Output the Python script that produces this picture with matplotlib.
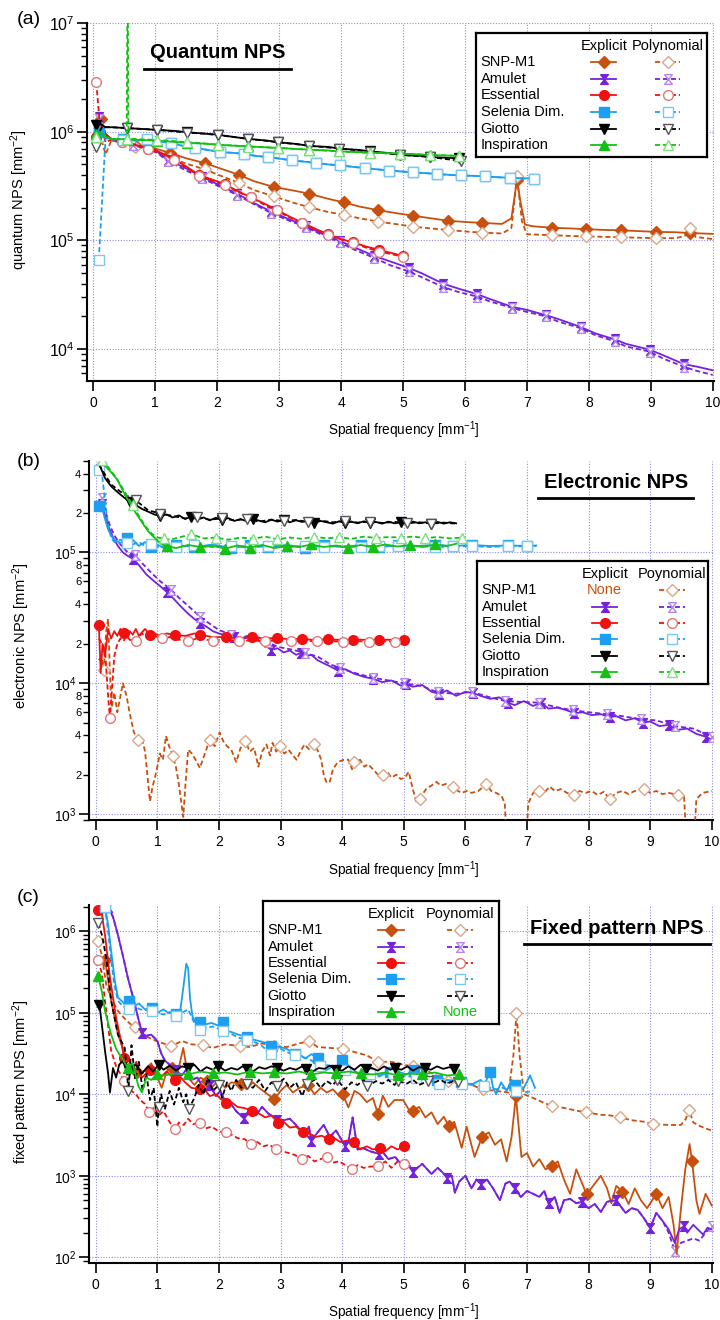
import numpy as np
import matplotlib
matplotlib.use("Agg")
import matplotlib.pyplot as plt
from matplotlib.lines import Line2D
from matplotlib.ticker import LogLocator, FuncFormatter, NullFormatter, MultipleLocator

plt.rcParams["font.family"] = ["Liberation Sans", "DejaVu Sans"]
plt.rcParams["mathtext.fontset"] = "custom"
plt.rcParams["mathtext.rm"] = "Liberation Sans"
plt.rcParams["mathtext.it"] = "Liberation Sans:italic"
plt.rcParams["mathtext.bf"] = "Liberation Sans:bold"

W, H = 720, 1320

DETECTORS = ["SNP-M1", "Amulet", "Essential", "Selenia Dim.", "Giotto", "Inspiration"]
COLORS = {"SNP-M1": "#c8500f", "Amulet": "#7422dc", "Essential": "#f01010",
          "Selenia Dim.": "#1c9ff0", "Giotto": "#000000", "Inspiration": "#14c014"}
POLY_EDGE = {"SNP-M1": "#d9a888", "Amulet": "#b088ee", "Essential": "#e07878",
             "Selenia Dim.": "#7cc8f0", "Giotto": "#555555", "Inspiration": "#80e080"}
BOWTIE = [(-0.8, 1), (0.8, 1), (-0.8, -1), (0.8, -1), (-0.8, 1)]
MARKERS = {"SNP-M1": "D", "Amulet": BOWTIE, "Essential": "o",
           "Selenia Dim.": "s", "Giotto": "v", "Inspiration": "^"}
MSIZE = {"SNP-M1": 6.5, "Amulet": 7, "Essential": 7, "Selenia Dim.": 7, "Giotto": 7.5, "Inspiration": 7.5}

# ---------------- (a) quantum NPS ----------------
a_snp_x = [0.05, 0.12, 0.2, 0.3, 0.5, 0.68, 1.0, 1.24, 1.5, 1.8, 2.05, 2.36, 2.6, 2.92, 3.2, 3.48, 3.75, 4.04, 4.3, 4.6,
           4.9, 5.16, 5.45, 5.72, 6.0, 6.28, 6.6, 6.75, 6.84, 6.9, 6.97, 7.1, 7.4, 7.7, 7.96, 8.25, 8.52, 8.8, 9.08, 9.4,
           9.64, 10.0]
a_snp_y = [9.5e5, 1.3e6, 9.5e5, 8.3e5, 7.8e5, 7.5e5, 7.0e5, 6.4e5, 5.7e5, 5.15e5, 4.6e5, 4.0e5, 3.5e5, 3.1e5, 2.9e5,
           2.7e5, 2.45e5, 2.24e5, 2.05e5, 1.9e5, 1.78e5, 1.69e5, 1.6e5, 1.52e5, 1.48e5, 1.45e5, 1.42e5, 1.6e5, 3.6e5,
           2.2e5, 1.4e5, 1.35e5, 1.31e5, 1.29e5, 1.27e5, 1.25e5, 1.24e5, 1.22e5, 1.2e5, 1.19e5, 1.17e5, 1.15e5]
a_snp_px = [0.05, 0.12, 0.2, 0.3, 0.5, 0.68, 1.0, 1.24, 1.5, 1.8, 2.05, 2.36, 2.6, 2.92, 3.2, 3.48, 3.75, 4.04, 4.3, 4.6,
            4.9, 5.16, 5.45, 5.72, 6.0, 6.28, 6.6, 6.75, 6.84, 6.92, 7.0, 7.2, 7.4, 7.7, 7.96, 8.25, 8.52, 8.8, 9.08,
            9.4, 9.55, 9.64, 9.72, 10.0]
a_snp_py = [9.0e5, 9.0e5, 6.2e5, 8.5e5, 7.8e5, 7.3e5, 6.5e5, 5.75e5, 5.1e5, 4.5e5, 3.95e5, 3.37e5, 2.9e5, 2.54e5,
            2.25e5, 2.03e5, 1.85e5, 1.72e5, 1.6e5, 1.49e5, 1.41e5, 1.34e5, 1.29e5, 1.25e5, 1.21e5, 1.18e5, 1.16e5,
            1.3e5, 3.9e5, 1.5e5, 1.14e5, 1.13e5, 1.12e5, 1.1e5, 1.09e5, 1.08e5, 1.07e5, 1.06e5, 1.05e5, 1.05e5,
            1.1e5, 1.3e5, 1.08e5, 1.03e5]
a_amu_x = [0.05, 0.1, 0.2, 0.3, 0.5, 0.65, 1.0, 1.21, 1.5, 1.76, 2.0, 2.32, 2.6, 2.87, 3.1, 3.43, 3.7, 3.98, 4.2, 4.54,
           4.8, 5.09, 5.3, 5.65, 5.9, 6.2, 6.4, 6.76, 7.0, 7.31, 7.5, 7.87, 8.1, 8.42, 8.6, 8.98, 9.2, 9.53, 9.75, 10.0]
a_amu_y = [1.1e6, 1.38e6, 9.5e5, 8.5e5, 8.0e5, 7.6e5, 6.8e5, 5.5e5, 4.6e5, 3.85e5, 3.3e5, 2.7e5, 2.2e5, 1.85e5,
           1.62e5, 1.36e5, 1.15e5, 9.9e4, 8.7e4, 7.2e4, 6.4e4, 5.6e4, 5.0e4, 4.0e4, 3.6e4, 3.2e4, 2.9e4, 2.45e4,
           2.3e4, 2.05e4, 1.9e4, 1.6e4, 1.4e4, 1.23e4, 1.12e4, 9.9e3, 8.8e3, 7.3e3, 6.9e3, 6.4e3]
a_amu_py = [1.0e6, 1.3e6, 9.5e5, 8.5e5, 8.0e5, 7.5e5, 6.6e5, 5.35e5, 4.4e5, 3.75e5, 3.2e5, 2.63e5, 2.15e5, 1.79e5,
            1.57e5, 1.33e5, 1.12e5, 9.6e4, 8.3e4, 6.9e4, 5.9e4, 5.2e4, 4.6e4, 3.73e4, 3.35e4, 3.05e4, 2.75e4, 2.4e4,
            2.2e4, 2.0e4, 1.8e4, 1.56e4, 1.35e4, 1.18e4, 1.06e4, 9.5e3, 8.2e3, 6.9e3, 6.3e3, 5.8e3]
a_ess_x = [0.05, 0.1, 0.2, 0.3, 0.47, 0.7, 0.88, 1.0, 1.3, 1.5, 1.71, 2.0, 2.13, 2.3, 2.54, 2.75, 2.96, 3.15, 3.37,
           3.6, 3.79, 4.0, 4.2, 4.4, 4.62, 5.0]
a_ess_y = [9.0e5, 1.25e6, 9.5e5, 8.5e5, 8.0e5, 7.5e5, 7.0e5, 6.8e5, 5.6e5, 4.8e5, 4.0e5, 3.5e5, 3.3e5, 2.9e5, 2.5e5,
           2.2e5, 1.92e5, 1.68e5, 1.46e5, 1.27e5, 1.14e5, 1.03e5, 9.6e4, 8.8e4, 8.2e4, 7.2e4]
a_ess_py = [2.85e6, 1.3e6, 8.0e5, 8.5e5, 8.0e5, 7.6e5, 6.9e5, 6.7e5, 5.5e5, 4.7e5, 3.9e5, 3.4e5, 3.26e5, 2.85e5, 2.5e5,
            2.15e5, 1.89e5, 1.65e5, 1.44e5, 1.25e5, 1.13e5, 1.02e5, 9.5e4, 8.6e4, 7.9e4, 7.1e4]
a_sel_x = [0.05, 0.1, 0.2, 0.3, 0.48, 0.7, 0.87, 1.05, 1.26, 1.45, 1.65, 1.85, 2.04, 2.25, 2.43, 2.62, 2.82, 3.02,
           3.21, 3.42, 3.6, 3.8, 3.99, 4.2, 4.38, 4.6, 4.77, 5.0, 5.16, 5.4, 5.55, 5.8, 5.94, 6.2, 6.33, 6.55, 6.72,
           6.95, 7.11]
a_sel_y = [1.05e6, 1.0e6, 8.8e5, 8.5e5, 8.5e5, 8.3e5, 8.4e5, 8.1e5, 7.9e5, 7.4e5, 7.1e5, 6.8e5, 6.5e5, 6.4e5, 6.25e5,
           6.0e5, 5.85e5, 5.65e5, 5.45e5, 5.3e5, 5.15e5, 5.0e5, 4.9e5, 4.75e5, 4.65e5, 4.5e5, 4.4e5, 4.3e5, 4.22e5,
           4.15e5, 4.08e5, 4.0e5, 3.96e5, 3.92e5, 3.88e5, 3.82e5, 3.77e5, 3.73e5, 3.7e5]
a_sel_px = [0.09, 0.2, 0.3, 0.48, 0.7, 0.87, 1.05, 1.26, 1.45, 1.65, 1.85, 2.04, 2.25, 2.43, 2.62, 2.82, 3.02, 3.21,
            3.42, 3.6, 3.8, 3.99, 4.2, 4.38, 4.6, 4.77, 5.0, 5.16, 5.4, 5.55, 5.8, 5.94, 6.2, 6.33, 6.55, 6.72, 6.95,
            7.11]
a_sel_py = [6.6e4, 8.8e5, 8.5e5, 8.45e5, 8.3e5, 8.55e5, 8.1e5, 7.95e5, 7.4e5, 7.1e5, 6.8e5, 6.5e5, 6.4e5, 6.27e5,
            6.0e5, 5.85e5, 5.65e5, 5.45e5, 5.3e5, 5.15e5, 5.0e5, 4.9e5, 4.75e5, 4.63e5, 4.5e5, 4.4e5, 4.3e5, 4.22e5,
            4.15e5, 4.08e5, 4.0e5, 3.96e5, 3.92e5, 3.88e5, 3.8e5, 3.75e5, 3.72e5, 3.7e5]
a_gio_x = [0.05, 0.1, 0.2, 0.3, 0.54, 0.8, 1.03, 1.3, 1.52, 1.8, 2.01, 2.3, 2.5, 2.8, 2.99, 3.3, 3.48, 3.8, 3.97, 4.3,
           4.46, 4.8, 4.95, 5.3, 5.44, 5.9]
a_gio_y = [1.15e6, 1.2e6, 1.1e6, 1.1e6, 1.08e6, 1.06e6, 1.04e6, 1.02e6, 9.9e5, 9.6e5, 9.4e5, 8.9e5, 8.6e5, 8.3e5,
           8.0e5, 7.7e5, 7.4e5, 7.25e5, 7.0e5, 6.8e5, 6.6e5, 6.35e5, 6.1e5, 6.0e5, 5.85e5, 5.7e5]
a_gio_px = [0.05, 0.1, 0.15, 0.2, 0.3, 0.54, 0.8, 1.03, 1.3, 1.52, 1.8, 2.01, 2.3, 2.5, 2.75, 2.99, 3.25, 3.48, 3.75,
            3.97, 4.2, 4.46, 4.7, 4.95, 5.2, 5.44, 5.7, 5.93]
a_gio_py = [7.3e5, 1.0e6, 1.12e6, 1.1e6, 1.1e6, 1.08e6, 1.06e6, 1.04e6, 1.01e6, 9.8e5, 9.6e5, 9.3e5, 8.9e5, 8.6e5,
            8.3e5, 8.0e5, 7.7e5, 7.45e5, 7.2e5, 7.0e5, 6.8e5, 6.55e5, 6.35e5, 6.15e5, 6.0e5, 5.85e5, 5.6e5, 5.4e5]
a_ins_x = [0.05, 0.1, 0.2, 0.3, 0.54, 0.75, 1.03, 1.25, 1.52, 1.75, 2.01, 2.25, 2.5, 2.75, 2.99, 3.25, 3.48, 3.75,
           3.97, 4.25, 4.46, 4.75, 4.95, 5.25, 5.44, 5.9]
a_ins_y = [9.5e5, 1.0e6, 9.0e5, 8.6e5, 8.5e5, 8.4e5, 8.3e5, 8.1e5, 7.9e5, 7.8e5, 7.6e5, 7.45e5, 7.35e5, 7.2e5, 7.1e5,
           6.95e5, 6.85e5, 6.75e5, 6.6e5, 6.5e5, 6.4e5, 6.35e5, 6.3e5, 6.2e5, 6.1e5, 6.0e5]
a_ins_px = [0.05, 0.1, 0.2, 0.3, 0.45, 0.54, 0.555, 0.57, 0.65, 0.8, 1.03, 1.3, 1.52, 1.8, 2.01, 2.3, 2.5, 2.75, 2.99,
            3.25, 3.48, 3.75, 3.97, 4.2, 4.46, 4.7, 4.95, 5.2, 5.44, 5.7, 5.9]
a_ins_py = [9.0e5, 1.0e6, 9.0e5, 8.6e5, 8.5e5, 8.6e5, 3e7, 8.6e5, 8.6e5, 8.5e5, 8.4e5, 8.2e5, 8.0e5, 7.8e5, 7.6e5,
            7.45e5, 7.3e5, 7.2e5, 7.1e5, 6.95e5, 6.85e5, 6.7e5, 6.6e5, 6.5e5, 6.4e5, 6.35e5, 6.3e5, 6.2e5, 6.1e5,
            6.05e5, 6.0e5]

# ---------------- (b) electronic NPS ----------------
b_gio_y = [4.8e5, 3.7e5, 3.2e5, 2.9e5, 2.65e5, 2.45e5, 2.3e5, 2.15e5, 2.05e5, 1.95e5,
           1.9e5, 1.95e5, 1.85e5, 1.92e5, 1.8e5, 1.88e5, 1.78e5, 1.85e5, 1.76e5, 1.84e5,
           1.77e5, 1.83e5, 1.74e5, 1.8e5, 1.73e5, 1.8e5, 1.75e5, 1.7e5, 1.78e5, 1.72e5,
           1.77e5, 1.7e5, 1.76e5, 1.71e5, 1.75e5, 1.69e5, 1.74e5, 1.7e5, 1.66e5, 1.73e5,
           1.68e5, 1.72e5, 1.67e5, 1.73e5, 1.68e5, 1.71e5, 1.66e5, 1.72e5, 1.67e5, 1.7e5,
           1.65e5, 1.72e5, 1.67e5, 1.7e5, 1.65e5, 1.71e5, 1.66e5, 1.7e5, 1.67e5]
b_gio_py = [4.7e5, 3.3e5, 2.8e5, 2.5e5, 2.1e5, 1.98e5, 1.9e5, 1.82e5, 1.86e5, 1.78e5,
            1.82e5, 1.76e5, 1.8e5, 1.72e5, 1.78e5, 1.74e5, 1.77e5, 1.71e5, 1.75e5, 1.7e5,
            1.74e5, 1.69e5, 1.72e5, 1.68e5, 1.71e5, 1.67e5, 1.7e5, 1.66e5, 1.69e5, 1.66e5]
b_ins_x = [0.05, 0.15, 0.25, 0.35, 0.45, 0.55, 0.65, 0.75, 0.85, 0.95, 1.05, 1.15, 1.3, 1.5, 1.7, 1.9, 2.1, 2.3, 2.5,
           2.7, 2.9, 3.1, 3.3, 3.5, 3.7, 3.9, 4.1, 4.3, 4.5, 4.7, 4.9, 5.1, 5.3, 5.5, 5.7, 5.9]
b_ins_y = [4.8e5, 4.6e5, 4.1e5, 3.6e5, 2.9e5, 2.4e5, 2.0e5, 1.7e5, 1.45e5, 1.3e5, 1.17e5, 1.12e5, 1.08e5, 1.14e5,
           1.1e5, 1.12e5, 1.07e5, 1.13e5, 1.09e5, 1.14e5, 1.08e5, 1.12e5, 1.1e5, 1.15e5, 1.1e5, 1.13e5, 1.09e5,
           1.14e5, 1.1e5, 1.15e5, 1.11e5, 1.14e5, 1.1e5, 1.15e5, 1.12e5, 1.18e5]
b_ins_px = [0.1, 0.2, 0.3, 0.4, 0.5, 0.6, 0.7, 0.8, 0.9, 1.0, 1.1, 1.2, 1.35, 1.55, 1.75, 1.95, 2.15, 2.35, 2.55,
            2.75, 2.95, 3.15, 3.35, 3.55, 3.75, 3.95, 4.15, 4.35, 4.55, 4.75, 4.95, 5.15, 5.35, 5.55, 5.75, 5.95]
b_ins_py = [5.1e5, 4.5e5, 3.9e5, 3.3e5, 2.75e5, 2.3e5, 1.9e5, 1.6e5, 1.4e5, 1.3e5, 1.28e5, 1.25e5, 1.3e5, 1.38e5,
            1.28e5, 1.3e5, 1.25e5, 1.3e5, 1.27e5, 1.32e5, 1.26e5, 1.3e5, 1.27e5, 1.32e5, 1.28e5, 1.31e5, 1.27e5,
            1.32e5, 1.29e5, 1.31e5, 1.3e5, 1.32e5, 1.29e5, 1.31e5, 1.28e5, 1.3e5]
b_sel_x = [0.06, 0.1, 0.15, 0.2, 0.25, 0.3, 0.4, 0.5, 0.55, 0.6, 0.7, 0.8, 0.9, 1.0, 1.1, 1.3, 1.6, 1.9, 2.2, 2.5,
           2.8, 3.1, 3.4, 3.7, 4.0, 4.3, 4.6, 4.9, 5.2, 5.5, 5.8, 6.1, 6.4, 6.7, 7.0, 7.15]
b_sel_y = [2.25e5, 2.2e5, 1.8e5, 1.5e5, 1.35e5, 1.25e5, 1.18e5, 1.3e5, 1.15e5, 1.25e5, 1.12e5, 1.2e5, 1.1e5, 1.15e5,
           1.08e5, 1.14e5, 1.1e5, 1.15e5, 1.08e5, 1.13e5, 1.1e5, 1.14e5, 1.09e5, 1.13e5, 1.1e5, 1.14e5, 1.1e5,
           1.13e5, 1.12e5, 1.14e5, 1.12e5, 1.14e5, 1.12e5, 1.13e5, 1.12e5, 1.13e5]
b_sel_py = [4.3e5, 4.0e5, 2.5e5, 1.6e5, 1.3e5, 1.2e5, 1.25e5, 1.18e5, 1.2e5, 1.15e5, 1.2e5, 1.12e5, 1.16e5, 1.1e5,
            1.12e5, 1.1e5, 1.13e5, 1.1e5, 1.12e5, 1.09e5, 1.12e5, 1.1e5, 1.12e5, 1.1e5, 1.12e5, 1.1e5, 1.12e5,
            1.11e5, 1.12e5, 1.1e5, 1.11e5, 1.12e5, 1.1e5, 1.12e5, 1.11e5, 1.12e5]
b_amu_x = [0.1, 0.15, 0.2, 0.28, 0.36, 0.44, 0.52, 0.61, 0.7, 0.82, 0.95, 1.05, 1.15, 1.25, 1.35, 1.42, 1.5, 1.6,
           1.69, 1.8, 1.9, 2.0, 2.07, 2.15, 2.25, 2.34, 2.45, 2.52, 2.6, 2.7, 2.78, 2.85, 2.95, 3.05, 3.15, 3.25,
           3.33, 3.42, 3.5, 3.6, 3.7, 3.8, 3.93, 4.05, 4.2, 4.35, 4.5, 4.65, 4.8, 4.95, 5.04, 5.15, 5.3, 5.45, 5.58,
           5.7, 5.85, 6.0, 6.13, 6.25, 6.4, 6.55, 6.69, 6.8, 6.95, 7.1, 7.23, 7.35, 7.5, 7.65, 7.77, 7.9, 8.05, 8.2,
           8.34, 8.45, 8.6, 8.75, 8.88, 9.0, 9.15, 9.3, 9.45, 9.6, 9.75, 9.9, 10.0]
b_amu_y = [2.35e5, 1.9e5, 1.6e5, 1.3e5, 1.12e5, 1.0e5, 9.4e4, 8.9e4, 8.0e4, 6.8e4, 6.0e4, 5.5e4, 5.0e4, 4.5e4, 4.0e4,
           3.7e4, 3.4e4, 3.1e4, 2.9e4, 2.7e4, 2.5e4, 2.4e4, 2.35e4, 2.2e4, 2.25e4, 2.15e4, 2.3e4, 2.1e4, 2.25e4,
           2.0e4, 1.9e4, 1.8e4, 1.85e4, 1.72e4, 1.78e4, 1.65e4, 1.7e4, 1.62e4, 1.65e4, 1.5e4, 1.42e4, 1.35e4,
           1.25e4, 1.28e4, 1.18e4, 1.12e4, 1.08e4, 1.02e4, 1.05e4, 9.6e3, 9.8e3, 9.4e3, 9.7e3, 8.6e3, 8.3e3, 8.8e3,
           8.0e3, 8.6e3, 8.4e3, 8.0e3, 7.6e3, 7.8e3, 7.1e3, 6.8e3, 7.3e3, 6.7e3, 7.1e3, 6.4e3, 6.5e3, 6.2e3, 5.9e3,
           6.0e3, 5.7e3, 5.8e3, 5.5e3, 5.6e3, 5.2e3, 5.4e3, 5.0e3, 5.1e3, 4.7e3, 4.8e3, 4.4e3, 4.5e3, 4.1e3, 3.9e3,
           3.7e3]
b_amu_px = [0.1, 0.15, 0.22, 0.3, 0.4, 0.5, 0.63, 0.75, 0.9, 1.05, 1.22, 1.35, 1.5, 1.7, 1.85, 2.0, 2.2, 2.4, 2.6,
            2.8, 2.95, 3.2, 3.4, 3.6, 3.8, 3.97, 4.2, 4.5, 4.75, 5.0, 5.3, 5.55, 5.85, 6.1, 6.4, 6.65, 6.9, 7.2, 7.45,
            7.75, 8.0, 8.3, 8.55, 8.85, 9.1, 9.4, 9.7, 10.0]
b_amu_py = [2.6e5, 2.1e5, 1.65e5, 1.35e5, 1.15e5, 1.02e5, 9.6e4, 8.3e4, 7.0e4, 6.0e4, 5.2e4, 4.5e4, 3.9e4, 3.2e4,
            2.85e4, 2.55e4, 2.35e4, 2.2e4, 2.3e4, 2.05e4, 1.9e4, 1.8e4, 1.7e4, 1.6e4, 1.4e4, 1.3e4, 1.2e4, 1.1e4,
            1.05e4, 1.0e4, 9.5e3, 8.5e3, 8.3e3, 8.6e3, 7.8e3, 7.3e3, 7.2e3, 7.1e3, 6.6e3, 6.2e3, 6.0e3, 5.8e3, 5.6e3,
            5.3e3, 5.2e3, 4.7e3, 4.5e3, 3.9e3]
b_ess_x = [0.05, 0.08, 0.11, 0.15, 0.2, 0.25, 0.3, 0.35, 0.4, 0.46, 0.5, 0.55, 0.6, 0.65, 0.7, 0.75, 0.8, 0.88, 0.95,
           1.05, 1.15, 1.29, 1.45, 1.6, 1.7, 1.9, 2.12, 2.3, 2.53, 2.7, 2.94, 3.1, 3.35, 3.5, 3.77, 3.9, 4.18, 4.3,
           4.59, 4.75, 5.0]
b_ess_y = [2.8e4, 1.2e4, 2.0e4, 1.6e4, 2.6e4, 2.2e4, 2.5e4, 2.3e4, 2.6e4, 2.4e4, 2.3e4, 2.5e4, 2.35e4, 2.6e4, 2.3e4,
           2.45e4, 2.6e4, 2.35e4, 2.4e4, 2.3e4, 2.4e4, 2.35e4, 2.3e4, 2.4e4, 2.35e4, 2.25e4, 2.25e4, 2.2e4, 2.25e4,
           2.2e4, 2.2e4, 2.18e4, 2.18e4, 2.15e4, 2.17e4, 2.15e4, 2.15e4, 2.15e4, 2.14e4, 2.15e4, 2.15e4]
b_ess_px = [0.05, 0.1, 0.15, 0.2, 0.23, 0.27, 0.3, 0.35, 0.4, 0.45, 0.5, 0.55, 0.65, 0.75, 0.85, 0.95, 1.07, 1.2,
            1.35, 1.49, 1.65, 1.8, 1.91, 2.1, 2.33, 2.5, 2.75, 2.95, 3.17, 3.4, 3.59, 3.8, 4.01, 4.2, 4.43, 4.6, 4.85,
            5.0]
b_ess_py = [2.2e4, 2.0e4, 1.8e4, 8e3, 5.4e3, 1.0e4, 1.6e4, 2.0e4, 2.2e4, 2.1e4, 2.3e4, 2.15e4, 2.1e4, 2.4e4, 2.2e4,
            2.3e4, 2.2e4, 2.25e4, 2.15e4, 2.1e4, 2.2e4, 2.15e4, 2.1e4, 2.15e4, 2.1e4, 2.12e4, 2.1e4, 2.12e4, 2.1e4,
            2.1e4, 2.1e4, 2.1e4, 2.08e4, 2.1e4, 2.08e4, 2.1e4, 2.08e4, 2.1e4]
b_snp_poly = [(0.05, 1.5e4), (0.09, 1.6e4), (0.13, 1.27e4), (0.17, 2.5e4), (0.2, 3.1e4), (0.23, 1.2e4),
              (0.26, 6.5e3), (0.3, 8.5e3), (0.35, 6.0e3), (0.44, 1.0e4), (0.5, 8.0e3), (0.55, 5.9e3),
              (0.62, 4.2e3), (0.69, 3.7e3), (0.75, 3.8e3), (0.8, 3.0e3), (0.88, 1.25e3), (0.92, 1.6e3),
              (0.96, 1.9e3), (1.0, 2.3e3), (1.04, 2.9e3), (1.09, 2.6e3), (1.14, 3.95e3), (1.19, 3.3e3),
              (1.25, 2.8e3), (1.3, 2.3e3), (1.34, 1.8e3), (1.38, 1.3e3), (1.42, 9.5e2), (1.46, 1.8e3),
              (1.5, 3.1e3), (1.56, 2.9e3), (1.62, 2.6e3), (1.69, 2.25e3), (1.76, 2.8e3), (1.85, 3.7e3),
              (1.93, 3.3e3), (2.01, 4.2e3), (2.07, 3.6e3), (2.13, 3.3e3), (2.2, 3.1e3), (2.28, 2.5e3),
              (2.35, 3.2e3), (2.43, 3.6e3), (2.5, 3.0e3), (2.57, 3.2e3), (2.64, 2.3e3), (2.7, 3.0e3),
              (2.77, 3.4e3), (2.83, 2.8e3), (2.87, 3.5e3), (2.93, 3.0e3), (2.99, 3.3e3), (3.06, 2.9e3),
              (3.13, 3.1e3), (3.2, 2.8e3), (3.26, 2.6e3), (3.32, 3.0e3), (3.39, 3.4e3), (3.47, 3.1e3),
              (3.55, 3.4e3), (3.61, 3.0e3), (3.66, 2.6e3), (3.7, 2.0e3), (3.75, 1.73e3), (3.8, 1.77e3),
              (3.85, 2.2e3), (3.93, 2.5e3), (4.03, 2.6e3), (4.1, 2.6e3), (4.16, 2.2e3), (4.2, 2.5e3),
              (4.29, 2.6e3), (4.36, 2.3e3), (4.42, 2.4e3), (4.5, 2.2e3), (4.58, 2.0e3), (4.66, 1.98e3),
              (4.73, 2.1e3), (4.8, 1.9e3), (4.88, 2.0e3), (4.95, 1.85e3), (5.02, 1.9e3), (5.08, 2.1e3),
              (5.14, 1.6e3), (5.2, 1.25e3), (5.26, 1.3e3), (5.32, 1.45e3), (5.37, 1.57e3), (5.45, 1.65e3),
              (5.53, 1.76e3), (5.6, 1.65e3), (5.69, 1.7e3), (5.8, 1.6e3), (5.88, 1.5e3), (5.94, 1.45e3),
              (6.02, 1.5e3), (6.1, 1.45e3), (6.21, 1.5e3), (6.28, 1.6e3), (6.34, 1.7e3), (6.42, 1.5e3),
              (6.5, 1.45e3), (6.59, 1.37e3), (6.64, 1.2e3), (6.68, 5e2), (6.98, 5e2), (7.02, 1.2e3),
              (7.1, 1.45e3), (7.2, 1.5e3), (7.28, 1.45e3), (7.37, 1.62e3), (7.45, 1.5e3), (7.55, 1.55e3),
              (7.65, 1.45e3), (7.77, 1.4e3), (7.85, 1.5e3), (7.95, 1.45e3), (8.05, 1.5e3), (8.15, 1.4e3),
              (8.25, 1.48e3), (8.34, 1.3e3), (8.45, 1.45e3), (8.55, 1.5e3), (8.65, 1.42e3), (8.75, 1.5e3),
              (8.9, 1.55e3), (9.0, 1.45e3), (9.1, 1.5e3), (9.2, 1.42e3), (9.3, 1.45e3), (9.45, 1.4e3),
              (9.55, 1.35e3), (9.6, 5e2), (9.7, 5e2), (9.75, 1.3e3), (9.85, 1.45e3), (10.0, 1.5e3)]

# ---------------- (c) fixed pattern NPS ----------------
c_snp = [(0.15, 4.5e5), (0.25, 1.4e5), (0.36, 5.4e4), (0.47, 3.1e4), (0.6, 2.2e4), (0.67, 1.9e4), (0.74, 1.8e4),
         (0.9, 2.4e4), (1.0, 1.6e4), (1.07, 1.2e4), (1.15, 1.9e4), (1.23, 2.1e4), (1.32, 1.7e4), (1.42, 3.7e4),
         (1.5, 1.6e4), (1.6, 1.3e4), (1.7, 1.6e4), (1.8, 1.45e4), (1.9, 1.25e4), (2.0, 1.5e4), (2.1, 1.2e4),
         (2.2, 1.4e4), (2.35, 1.34e4), (2.45, 1.15e4), (2.55, 1.4e4), (2.65, 1.2e4), (2.75, 1.05e4), (2.9, 8.7e3),
         (3.0, 1.1e4), (3.1, 1.3e4), (3.2, 1.05e4), (3.31, 1.2e4), (3.45, 1.3e4), (3.55, 1.0e4), (3.65, 1.2e4),
         (3.75, 1.05e4), (3.85, 1.15e4), (3.95, 9.5e3), (4.01, 1.0e4), (4.1, 6.9e3), (4.2, 1.1e4), (4.29, 1.0e4),
         (4.4, 8.0e3), (4.5, 9.0e3), (4.58, 5.7e3), (4.66, 9.6e3), (4.75, 7.0e3), (4.85, 8.5e3), (4.99, 8.5e3),
         (5.08, 6.5e3), (5.15, 6.3e3), (5.25, 7.0e3), (5.35, 5.2e3), (5.45, 6.0e3), (5.55, 4.3e3), (5.65, 5.3e3),
         (5.73, 4.1e3), (5.82, 4.6e3), (5.94, 2.2e3), (6.02, 4.0e3), (6.15, 1.7e3), (6.27, 3.0e3), (6.38, 3.4e3),
         (6.48, 2.4e3), (6.58, 2.8e3), (6.67, 1.5e3), (6.75, 3.0e3), (6.82, 9.5e3), (6.91, 1.7e3), (7.0, 1.9e3),
         (7.1, 1.3e3), (7.2, 1.6e3), (7.3, 1.2e3), (7.4, 1.3e3), (7.5, 1.5e3), (7.6, 9e2), (7.7, 6.0e2),
         (7.8, 1.2e3), (7.97, 5.9e2), (8.1, 8.0e2), (8.2, 1.0e3), (8.3, 7.0e2), (8.37, 4.6e2), (8.45, 7.5e2),
         (8.55, 6.4e2), (8.65, 4.5e2), (8.75, 7.0e2), (8.85, 5.0e2), (8.95, 4.0e2), (9.1, 6.0e2), (9.2, 4.0e2),
         (9.3, 5.5e2), (9.38, 2.5e2), (9.43, 1.1e2), (9.5, 4.0e2), (9.57, 1.2e3), (9.64, 2.45e3), (9.68, 1.5e3),
         (9.75, 5.0e2), (9.8, 3.4e2), (9.9, 6.0e2), (10.0, 4.3e2)]
c_snp_poly = [(0.04, 7.5e5), (0.1, 5.0e5), (0.17, 2.2e5), (0.25, 1.5e5), (0.36, 1.05e5), (0.5, 8.0e4),
              (0.63, 6.6e4), (0.8, 5.2e4), (0.98, 4.5e4), (1.1, 4.2e4), (1.22, 3.9e4), (1.4, 4.5e4), (1.55, 4.1e4),
              (1.74, 4.0e4), (1.9, 3.7e4), (2.1, 4.1e4), (2.34, 3.9e4), (2.5, 3.8e4), (2.7, 4.2e4), (2.9, 3.9e4),
              (3.1, 3.8e4), (3.3, 4.2e4), (3.46, 4.5e4), (3.6, 3.8e4), (3.8, 3.7e4), (4.01, 3.6e4), (4.2, 3.3e4),
              (4.4, 3.0e4), (4.58, 2.5e4), (4.8, 2.5e4), (5.0, 2.3e4), (5.15, 2.2e4), (5.4, 1.9e4), (5.71, 1.45e4),
              (5.9, 1.4e4), (6.1, 1.3e4), (6.28, 1.15e4), (6.5, 1.1e4), (6.7, 1.05e4), (6.78, 3.0e4),
              (6.83, 1.0e5), (6.88, 3.0e4), (6.95, 1.0e4), (7.1, 9.0e3), (7.25, 8.0e3), (7.4, 7.2e3),
              (7.6, 6.8e3), (7.8, 6.3e3), (7.96, 6.0e3), (8.2, 5.6e3), (8.35, 5.5e3), (8.51, 5.2e3), (8.7, 4.8e3),
              (8.9, 4.6e3), (9.05, 4.3e3), (9.3, 4.2e3), (9.5, 4.2e3), (9.58, 5.0e3), (9.63, 6.5e3), (9.7, 4.5e3),
              (9.8, 4.1e3), (9.9, 3.8e3), (10.0, 3.6e3)]
c_amu = [(0.2, 2.0e6), (0.28, 1.5e6), (0.36, 9e5), (0.44, 5e5), (0.52, 2.7e5), (0.6, 1.6e5), (0.66, 1.05e5),
         (0.75, 5.6e4), (0.82, 5.2e4), (0.9, 5.4e4), (1.0, 4.5e4), (1.06, 3.2e4), (1.12, 2.6e4), (1.2, 2.3e4),
         (1.3, 2.0e4), (1.39, 1.7e4), (1.47, 2.0e4), (1.55, 1.5e4), (1.65, 1.6e4), (1.77, 1.1e4), (1.85, 1.3e4),
         (1.95, 9.5e3), (2.02, 1.1e4), (2.1, 8.3e3), (2.2, 7.5e3), (2.28, 6.2e3), (2.4, 5.1e3), (2.5, 6.5e3),
         (2.6, 5.5e3), (2.7, 7.0e3), (2.8, 5.8e3), (2.88, 5.3e3), (2.95, 4.9e3), (3.05, 4.8e3), (3.15, 5.0e3),
         (3.25, 4.2e3), (3.33, 3.6e3), (3.39, 3.3e3), (3.46, 4.0e3), (3.5, 2.7e3), (3.6, 3.4e3), (3.7, 4.2e3),
         (3.8, 3.0e3), (3.9, 3.6e3), (4.05, 2.3e3), (4.1, 2.6e3), (4.17, 5.2e3), (4.25, 2.1e3), (4.33, 2.2e3),
         (4.45, 2.0e3), (4.6, 1.85e3), (4.65, 2.0e3), (4.75, 1.6e3), (4.86, 1.7e3), (4.95, 1.4e3), (5.05, 1.55e3),
         (5.15, 1.1e3), (5.22, 1.25e3), (5.3, 1.4e3), (5.38, 1.2e3), (5.45, 1.05e3), (5.55, 1.25e3),
         (5.63, 1.1e3), (5.7, 9.5e2), (5.78, 1.0e3), (5.83, 6.2e2), (5.9, 8.5e2), (6.0, 1.0e3), (6.1, 7.0e2),
         (6.18, 9.0e2), (6.25, 7.9e2), (6.35, 9.0e2), (6.45, 7.0e2), (6.56, 5.0e2), (6.65, 8.0e2), (6.72, 8.5e2),
         (6.8, 7.0e2), (6.9, 5.5e2), (7.0, 6.5e2), (7.1, 6.0e2), (7.2, 5.5e2), (7.28, 6.5e2), (7.35, 4.6e2),
         (7.45, 5.5e2), (7.53, 3.5e2), (7.6, 5.0e2), (7.7, 5.2e2), (7.8, 4.6e2), (7.9, 4.8e2), (8.0, 4.0e2),
         (8.1, 4.5e2), (8.2, 3.6e2), (8.3, 4.8e2), (8.45, 5.0e2), (8.6, 3.5e2), (8.7, 4.0e2), (8.8, 3.8e2),
         (8.9, 3.0e2), (9.0, 2.3e2), (9.1, 3.5e2), (9.2, 2.8e2), (9.3, 2.2e2), (9.4, 1.5e2), (9.47, 2.2e2),
         (9.55, 2.4e2), (9.6, 2.0e2), (9.7, 2.5e2), (9.8, 2.1e2), (9.86, 1.9e2), (9.93, 2.3e2), (10.0, 2.2e2)]
c_amu_poly_tail = [(9.3, 2.0e2), (9.4, 1.2e2), (9.5, 1.5e2), (9.6, 1.6e2), (9.7, 1.7e2), (9.8, 1.6e2),
                   (9.9, 2.0e2), (10.0, 2.4e2)]
c_ess = [(0.04, 1.8e6), (0.1, 1.6e6), (0.15, 9e5), (0.23, 2.7e5), (0.33, 8.7e4), (0.42, 4.1e4), (0.46, 2.8e4),
         (0.5, 2.3e4), (0.58, 1.9e4), (0.66, 2.5e4), (0.75, 1.6e4), (0.88, 2.0e4), (0.96, 1.77e4), (1.05, 1.6e4),
         (1.15, 1.9e4), (1.29, 1.5e4), (1.35, 1.7e4), (1.45, 1.4e4), (1.55, 1.2e4), (1.7, 1.15e4), (1.75, 1.2e4),
         (1.85, 9.5e3), (1.95, 1.0e4), (2.05, 8.5e3), (2.12, 7.9e3), (2.2, 8.0e3), (2.3, 7.0e3), (2.4, 6.8e3),
         (2.54, 6.3e3), (2.65, 5.8e3), (2.75, 5.2e3), (2.85, 5.5e3), (2.96, 4.5e3), (3.05, 4.6e3), (3.15, 3.9e3),
         (3.25, 4.0e3), (3.37, 3.4e3), (3.47, 3.3e3), (3.57, 3.0e3), (3.67, 3.1e3), (3.78, 2.8e3), (3.87, 2.9e3),
         (3.97, 2.6e3), (4.08, 2.7e3), (4.19, 2.6e3), (4.29, 2.1e3), (4.4, 2.3e3), (4.5, 2.1e3), (4.61, 2.2e3),
         (4.7, 2.0e3), (4.8, 2.3e3), (4.9, 2.1e3), (5.0, 2.3e3)]
c_ess_poly = [(0.04, 4.4e5), (0.1, 3.0e5), (0.15, 1.4e5), (0.25, 3.4e4), (0.33, 2.2e4), (0.4, 1.77e4),
              (0.46, 1.45e4), (0.52, 1.3e4), (0.58, 1.1e4), (0.65, 1.0e4), (0.72, 8.5e3), (0.8, 7.6e3),
              (0.87, 6.0e3), (0.95, 7.0e3), (1.02, 5.5e3), (1.1, 6.2e3), (1.18, 4.8e3), (1.28, 3.7e3),
              (1.35, 4.5e3), (1.43, 4.2e3), (1.5, 5.0e3), (1.58, 4.3e3), (1.69, 4.5e3), (1.78, 3.8e3),
              (1.88, 4.0e3), (2.0, 3.5e3), (2.11, 3.4e3), (2.2, 3.2e3), (2.3, 2.9e3), (2.42, 2.8e3), (2.52, 2.45e3),
              (2.62, 2.6e3), (2.72, 2.3e3), (2.82, 2.4e3), (2.93, 2.1e3), (3.03, 2.0e3), (3.13, 1.9e3),
              (3.23, 1.8e3), (3.34, 1.6e3), (3.45, 1.75e3), (3.55, 1.5e3), (3.65, 1.6e3), (3.75, 1.7e3),
              (3.85, 1.45e3), (3.95, 1.5e3), (4.05, 1.35e3), (4.16, 1.2e3), (4.25, 1.35e3), (4.35, 1.25e3),
              (4.47, 1.3e3), (4.58, 1.3e3), (4.7, 1.5e3), (4.8, 1.25e3), (4.9, 1.5e3), (5.0, 1.4e3)]
c_sel = [(0.15, 2.0e6), (0.2, 1.2e6), (0.25, 5.7e5), (0.31, 2.45e5), (0.36, 1.53e5), (0.42, 1.4e5), (0.48, 1.25e5),
         (0.54, 1.4e5), (0.62, 1.2e5), (0.7, 1.3e5), (0.8, 1.1e5), (0.92, 1.15e5), (1.0, 1.0e5), (1.1, 1.1e5),
         (1.17, 1.0e5), (1.25, 1.05e5), (1.31, 9.6e4), (1.37, 1.05e5), (1.42, 2.0e5), (1.47, 4.0e5), (1.5, 3.5e5),
         (1.53, 1.5e5), (1.57, 9.0e4), (1.61, 7.9e4), (1.69, 7.6e4), (1.78, 7.2e4), (1.88, 7.5e4), (1.98, 7.0e4),
         (2.07, 7.6e4), (2.13, 6.0e4), (2.2, 5.8e4), (2.31, 5.4e4), (2.46, 5.0e4), (2.55, 4.7e4), (2.65, 4.5e4),
         (2.8, 4.2e4), (2.85, 3.9e4), (3.0, 3.8e4), (3.1, 3.6e4), (3.23, 3.1e4), (3.33, 3.0e4), (3.4, 2.75e4),
         (3.5, 3.1e4), (3.61, 2.8e4), (3.72, 1.93e4), (3.85, 2.2e4), (3.95, 2.0e4), (4.0, 2.6e4), (4.15, 2.1e4),
         (4.25, 1.8e4), (4.38, 1.75e4), (4.5, 1.9e4), (4.6, 1.7e4), (4.77, 1.85e4), (4.9, 1.9e4), (5.05, 1.75e4),
         (5.16, 2.0e4), (5.26, 2.2e4), (5.4, 1.6e4), (5.54, 1.5e4), (5.62, 1.33e4), (5.7, 1.5e4), (5.88, 1.45e4),
         (5.93, 1.4e4), (6.0, 1.35e4), (6.12, 1.34e4), (6.25, 1.5e4), (6.31, 1.3e4), (6.4, 1.9e4), (6.45, 1.2e4),
         (6.5, 1.0e4), (6.58, 1.4e4), (6.67, 1.1e4), (6.75, 1.5e4), (6.8, 1.3e4), (6.88, 1.1e4), (6.95, 1.2e4),
         (7.05, 1.7e4), (7.13, 1.2e4)]
c_sel_poly = [(0.15, 2.0e6), (0.2, 1.0e6), (0.25, 4.5e5), (0.3, 2.2e5), (0.36, 1.4e5), (0.44, 1.2e5), (0.54, 1.1e5),
              (0.62, 1.2e5), (0.72, 1.1e5), (0.92, 1.05e5), (1.0, 1.0e5), (1.1, 9.5e4), (1.2, 1.0e5), (1.31, 9.2e4),
              (1.4, 1.0e5), (1.5, 1.1e5), (1.6, 7.5e4), (1.69, 6.2e4), (1.8, 6.5e4), (1.9, 6.8e4), (2.07, 6.0e4),
              (2.2, 5.5e4), (2.3, 5.0e4), (2.46, 4.6e4), (2.6, 4.3e4), (2.7, 3.9e4), (2.85, 3.1e4), (3.0, 3.6e4),
              (3.1, 3.3e4), (3.23, 3.0e4), (3.4, 2.8e4), (3.5, 2.6e4), (3.64, 2.2e4), (3.8, 2.3e4), (3.9, 2.1e4),
              (4.04, 2.0e4), (4.2, 1.9e4), (4.3, 1.8e4), (4.45, 1.75e4), (4.6, 1.65e4), (4.7, 1.8e4),
              (4.83, 1.75e4), (5.0, 1.7e4), (5.2, 1.6e4), (5.4, 1.5e4), (5.58, 1.33e4), (5.75, 1.4e4),
              (5.95, 1.35e4), (6.1, 1.3e4), (6.3, 1.25e4), (6.5, 1.15e4), (6.6, 1.2e4), (6.75, 1.1e4),
              (6.83, 1.1e4), (6.95, 1.05e4), (7.1, 1.1e4)]
c_gio = [(0.06, 1.25e5), (0.1, 7.0e4), (0.15, 3.4e4), (0.2, 1.8e4), (0.23, 1.05e4), (0.28, 2.1e4), (0.33, 1.6e4),
         (0.38, 2.3e4), (0.44, 2.6e4), (0.5, 1.9e4), (0.54, 2.0e4), (0.65, 2.3e4), (0.75, 1.8e4), (0.85, 2.2e4),
         (0.93, 1.9e4), (1.02, 2.3e4), (1.1, 2.0e4), (1.2, 2.25e4), (1.3, 1.95e4), (1.4, 2.2e4), (1.5, 2.1e4),
         (1.6, 2.3e4), (1.7, 1.9e4), (1.8, 2.15e4), (1.9, 2.0e4), (1.98, 2.25e4), (2.1, 1.95e4), (2.2, 2.1e4),
         (2.3, 2.0e4), (2.38, 2.2e4), (2.46, 2.05e4), (2.55, 1.9e4), (2.65, 2.15e4), (2.75, 2.05e4), (2.85, 2.2e4),
         (2.94, 2.1e4), (3.05, 1.95e4), (3.15, 2.1e4), (3.25, 2.0e4), (3.35, 2.2e4), (3.42, 2.05e4), (3.52, 1.9e4),
         (3.62, 2.1e4), (3.72, 2.05e4), (3.8, 2.25e4), (3.9, 2.0e4), (4.0, 1.95e4), (4.1, 2.2e4), (4.2, 2.0e4),
         (4.3, 2.3e4), (4.38, 2.05e4), (4.48, 2.1e4), (4.58, 1.95e4), (4.68, 2.2e4), (4.78, 2.0e4), (4.86, 2.1e4),
         (4.96, 2.0e4), (5.06, 2.2e4), (5.15, 1.95e4), (5.25, 2.15e4), (5.34, 2.1e4), (5.44, 2.0e4), (5.54, 2.2e4),
         (5.64, 2.05e4), (5.74, 2.15e4), (5.82, 2.05e4)]
c_gio_poly = [(0.04, 1.26e6), (0.1, 9e5), (0.17, 4.7e5), (0.25, 1.4e5), (0.36, 5.4e4), (0.47, 3.7e4), (0.53, 1.1e4),
              (0.58, 4.0e4), (0.64, 1.5e4), (0.7, 2.5e4), (0.76, 1.1e4), (0.82, 1.8e4), (0.88, 8.5e3),
              (0.94, 1.2e4), (1.0, 4.0e3), (1.02, 7.0e3), (1.06, 1.0e4), (1.12, 6.5e3), (1.2, 1.1e4), (1.27, 7.5e3),
              (1.35, 1.2e4), (1.42, 8.0e3), (1.47, 1.0e4), (1.51, 6.6e3), (1.6, 9.0e3), (1.67, 1.3e4),
              (1.75, 1.0e4), (1.82, 1.6e4), (1.9, 1.1e4), (2.0, 1.3e4), (2.05, 9.0e3), (2.13, 1.4e4), (2.2, 1.1e4),
              (2.28, 1.5e4), (2.36, 1.2e4), (2.45, 1.33e4), (2.55, 1.2e4), (2.65, 1.5e4), (2.75, 1.1e4),
              (2.85, 1.4e4), (2.94, 1.25e4), (3.05, 1.55e4), (3.15, 1.2e4), (3.25, 1.4e4), (3.35, 9.5e3),
              (3.43, 1.35e4), (3.55, 1.5e4), (3.65, 1.2e4), (3.75, 1.45e4), (3.85, 1.3e4), (3.92, 1.5e4),
              (4.05, 1.15e4), (4.15, 1.4e4), (4.25, 1.3e4), (4.35, 1.5e4), (4.41, 1.25e4), (4.55, 1.45e4),
              (4.65, 1.35e4), (4.75, 1.5e4), (4.85, 1.3e4), (4.9, 1.45e4), (5.05, 1.35e4), (5.15, 1.5e4),
              (5.25, 1.3e4), (5.39, 1.45e4), (5.5, 1.4e4), (5.6, 1.5e4), (5.7, 1.35e4), (5.8, 1.45e4),
              (5.88, 1.4e4)]
c_ins = [(0.04, 2.8e5), (0.1, 1.8e5), (0.15, 1.05e5), (0.25, 5.4e4), (0.33, 3.6e4), (0.42, 2.8e4), (0.52, 2.1e4),
         (0.6, 2.4e4), (0.69, 1.27e4), (0.75, 1.05e4), (0.82, 1.6e4), (0.9, 1.5e4), (1.0, 1.75e4), (1.1, 1.7e4),
         (1.3, 1.8e4), (1.5, 1.75e4), (1.7, 1.9e4), (1.9, 1.8e4), (2.1, 1.85e4), (2.3, 1.75e4), (2.5, 1.9e4),
         (2.7, 1.8e4), (2.9, 1.85e4), (3.1, 1.8e4), (3.3, 1.9e4), (3.5, 1.75e4), (3.7, 1.85e4), (3.9, 1.8e4),
         (4.1, 1.9e4), (4.3, 1.8e4), (4.5, 1.75e4), (4.7, 1.85e4), (4.9, 1.7e4), (5.1, 1.8e4), (5.3, 1.75e4),
         (5.5, 1.85e4), (5.7, 1.7e4), (5.9, 1.75e4)]


def unzip(pairs):
    return [p[0] for p in pairs], [p[1] for p in pairs]


def mark_index(x, marks):
    x = np.asarray(x, float)
    if isinstance(marks, tuple):
        marks = np.arange(marks[0], x[-1] + 0.06, marks[1])
    return sorted({int(np.argmin(np.abs(x - m))) for m in marks})


def draw(ax, x, y, name, poly, marks, z=3):
    col = COLORS[name]
    ax.plot(x, y, color=col, lw=1.3, ls=(0, (2.8, 1.6)) if poly else "-",
            marker=MARKERS[name], ms=MSIZE[name],
            mfc="white" if poly else col, mec=POLY_EDGE[name] if poly else col,
            mew=1.0, markevery=mark_index(x, marks), zorder=z)


def setup(ax, xlim, ylim, ylabelsize):
    ax.set_yscale("log")
    ax.set_xlim(*xlim)
    ax.set_ylim(*ylim)
    for s in ("top", "right"):
        ax.spines[s].set_visible(False)
    for s in ("left", "bottom"):
        ax.spines[s].set_linewidth(1.5)
    ax.xaxis.set_major_locator(MultipleLocator(1))
    ax.yaxis.set_major_locator(LogLocator(base=10, numticks=20))
    ax.yaxis.set_minor_locator(LogLocator(base=10, subs=np.arange(2, 10), numticks=20))
    ax.yaxis.set_minor_formatter(NullFormatter())
    ax.grid(True, which="major", color="#8c8ce0", ls=(0, (1, 1.5)), lw=0.8)
    ax.set_axisbelow(True)
    ax.tick_params(which="major", direction="out", length=7, width=1.2, pad=2)
    ax.tick_params(which="minor", direction="out", length=4, width=1.0)
    ax.tick_params(axis="x", which="major", pad=4, labelsize=10)
    ax.tick_params(axis="y", which="major", labelsize=ylabelsize)
    ax.set_xlabel("Spatial frequency [mm$^{-1}$]", fontsize=9.8)


def px(x, y):
    return x / W, 1 - y / H


def add_title(text, cx, cy, x0, x1, uy):
    fig.text(*px(cx, cy), text, ha="center", va="center", fontsize=14.5, fontweight="bold")
    fig.add_artist(Line2D([x0 / W, x1 / W], [1 - uy / H, 1 - uy / H], color="black", lw=2.0))


def add_legend(box, exp_col, poly_col, poly_title, none_exp=(), none_poly=()):
    x0, y0, x1, y1 = box
    lax = fig.add_axes([x0 / W, 1 - y1 / H, (x1 - x0) / W, (y1 - y0) / H])
    lax.set_xlim(0, 1)
    lax.set_ylim(0, 1)
    lax.set_xticks([])
    lax.set_yticks([])
    for s in lax.spines.values():
        s.set_linewidth(1.6)
    rows = [0.763, 0.629, 0.497, 0.363, 0.229, 0.094]
    fs = 10.5
    lax.text(exp_col, 0.898, "Explicit", ha="center", va="center", fontsize=fs)
    lax.text(poly_col, 0.898, poly_title, ha="center", va="center", fontsize=fs)
    for name, yy in zip(DETECTORS, rows):
        col = COLORS[name]
        lax.text(0.02, yy, name, ha="left", va="center", fontsize=fs)
        if name in none_exp:
            lax.text(exp_col, yy, "None", color=col, ha="center", va="center", fontsize=fs)
        else:
            lax.plot([exp_col - 0.055, exp_col + 0.055], [yy, yy], color=col, lw=1.3)
            lax.plot([exp_col], [yy], marker=MARKERS[name], ms=MSIZE[name], mfc=col, mec=col, ls="none")
        if name in none_poly:
            lax.text(poly_col, yy, "None", color=col, ha="center", va="center", fontsize=fs)
        else:
            lax.plot([poly_col - 0.055, poly_col + 0.055], [yy, yy], color=col, lw=1.3, ls=(0, (2.8, 1.6)))
            lax.plot([poly_col], [yy], marker=MARKERS[name], ms=MSIZE[name], mfc="white",
                     mec=POLY_EDGE[name], mew=1.0, ls="none")


fig = plt.figure(figsize=(W / 100, H / 100), dpi=100)

# ---- panel (a)
ax = fig.add_axes([87 / W, 1 - 381 / H, 627 / W, 358 / H])
setup(ax, (-0.1, 10.02), (5.1e3, 1e7), 11.5)
draw(ax, a_snp_x, a_snp_y, "SNP-M1", False, (0.12, 0.56))
draw(ax, a_snp_px, a_snp_py, "SNP-M1", True, (0.12, 0.56))
draw(ax, a_amu_x, a_amu_y, "Amulet", False, (0.1, 0.555))
draw(ax, a_amu_x, a_amu_py, "Amulet", True, (0.1, 0.555))
draw(ax, a_ess_x, a_ess_y, "Essential", False, (0.05, 0.415))
draw(ax, a_ess_x, a_ess_py, "Essential", True, (0.05, 0.415))
draw(ax, a_sel_x, a_sel_y, "Selenia Dim.", False, (0.09, 0.39))
draw(ax, a_sel_px, a_sel_py, "Selenia Dim.", True, (0.09, 0.39))
draw(ax, a_gio_x, a_gio_y, "Giotto", False, (0.05, 0.49))
draw(ax, a_gio_px, a_gio_py, "Giotto", True, (0.05, 0.49))
draw(ax, a_ins_x, a_ins_y, "Inspiration", False, (0.05, 0.49))
draw(ax, a_ins_px, a_ins_py, "Inspiration", True, (0.05, 0.49))
ax.set_ylabel("quantum NPS [mm$^{-2}$]", fontsize=10.5)
ax.yaxis.set_label_coords(-0.091, 0.506)
ax.xaxis.set_label_coords(0.505, -0.106)
fig.text(*px(29, 19), "(a)", ha="center", va="center", fontsize=14)
add_title("Quantum NPS", 217.5, 52, 144, 291, 68.5)
add_legend((476, 33, 707, 157), 0.553, 0.83, "Polynomial")

# ---- panel (b)
ax = fig.add_axes([89 / W, 1 - 820 / H, 624 / W, 359 / H])
setup(ax, (-0.11, 10.02), (9e2, 5e5), 10)


def mantissa_label(v, pos):
    e = np.floor(np.log10(v) + 1e-9)
    m = int(round(v / 10 ** e))
    return str(m) if m in (2, 4, 6, 8) else ""


ax.yaxis.set_minor_formatter(FuncFormatter(mantissa_label))
ax.tick_params(axis="y", which="minor", labelsize=8, pad=1.5)
x, y = unzip(b_snp_poly)
draw(ax, x, y, "SNP-M1", True, [0.13, 0.69, 1.25, 1.85, 2.43, 2.99, 3.55, 4.2, 4.66, 5.26, 5.8, 6.34,
                                 7.2, 7.77, 8.34, 8.9, 9.45])
draw(ax, b_amu_x, b_amu_y, "Amulet", False, (0.1, 0.545))
draw(ax, b_amu_px, b_amu_py, "Amulet", True, (0.1, 0.545))
draw(ax, b_ess_x, b_ess_y, "Essential", False, [0.05, 0.46, 0.88, 1.29, 1.7, 2.12, 2.53, 2.94, 3.35, 3.77,
                                                 4.18, 4.59, 5.0])
draw(ax, b_ess_px, b_ess_py, "Essential", True, [0.23, 0.65, 1.07, 1.49, 1.91, 2.33, 2.75, 3.17, 3.59, 4.01,
                                                  4.43, 4.85])
draw(ax, b_sel_x, b_sel_y, "Selenia Dim.", False, (0.06, 0.41))
draw(ax, b_sel_x, b_sel_py, "Selenia Dim.", True, (0.06, 0.41))
b_gio_x = 0.05 + 0.1 * np.arange(len(b_gio_y))
b_gio_px = 0.05 + 0.2 * np.arange(len(b_gio_py))
draw(ax, b_gio_x, b_gio_y, "Giotto", False, (0.58, 0.49))
draw(ax, b_gio_px, b_gio_py, "Giotto", True, (0.58, 0.49))
draw(ax, b_ins_x, b_ins_y, "Inspiration", False, (1.1, 0.5))
draw(ax, b_ins_px, b_ins_py, "Inspiration", True, (0.1, 0.485))
ax.set_ylabel("electronic NPS [mm$^{-2}$]", fontsize=10.5)
ax.yaxis.set_label_coords(-0.092, 0.512)
ax.xaxis.set_label_coords(0.505, -0.109)
fig.text(*px(29, 461), "(b)", ha="center", va="center", fontsize=14)
add_title("Electronic NPS", 616, 482, 538, 693, 497.5)
add_legend((477, 561, 708, 684), 0.553, 0.845, "Poynomial", none_exp=("SNP-M1",))

# ---- panel (c)
ax = fig.add_axes([89 / W, 1 - 1263 / H, 624 / W, 358 / H])
setup(ax, (-0.11, 10.02), (85, 2.1e6), 10)
x, y = unzip(c_snp)
draw(ax, x, y, "SNP-M1", False, [0.15, 0.67, 1.23, 1.8, 2.35, 2.9, 3.45, 4.01, 4.58, 5.15, 5.73, 6.27, 6.82,
                                  7.4, 7.97, 8.55, 9.1, 9.68])
x, y = unzip(c_snp_poly)
draw(ax, x, y, "SNP-M1", True, [0.04, 0.63, 1.22, 1.74, 2.34, 2.9, 3.46, 4.01, 4.58, 5.15, 5.71, 6.28, 6.83,
                                 7.4, 7.96, 8.51, 9.05, 9.63])
x, y = unzip([p for p in c_amu if p[0] < 9.3] + c_amu_poly_tail)
draw(ax, x, y, "Amulet", True, [0.2, 9.4, 10.0], z=2)
x, y = unzip(c_amu)
draw(ax, x, y, "Amulet", False, (0.2, 0.55))
x, y = unzip(c_ess)
draw(ax, x, y, "Essential", False, [0.04, 0.46, 0.88, 1.29, 1.7, 2.12, 2.54, 2.96, 3.37, 3.78, 4.19, 4.61, 5.0])
x, y = unzip(c_ess_poly)
draw(ax, x, y, "Essential", True, [0.04, 0.46, 0.87, 1.28, 1.69, 2.11, 2.52, 2.93, 3.34, 3.75, 4.16, 4.58, 5.0])
x, y = unzip(c_sel)
draw(ax, x, y, "Selenia Dim.", False, [0.15, 0.54, 0.92, 1.31, 1.69, 2.07, 2.46, 2.85, 3.23, 3.61, 4.0, 4.38,
                                        4.77, 5.16, 5.54, 5.93, 6.4, 6.8])
x, y = unzip(c_sel_poly)
draw(ax, x, y, "Selenia Dim.", True, [0.15, 0.54, 0.92, 1.31, 1.69, 2.07, 2.46, 2.85, 3.23, 3.64, 4.04, 4.45,
                                       4.83, 5.2, 5.58, 5.95, 6.3, 6.83])
x, y = unzip(c_gio)
draw(ax, x, y, "Giotto", False, (0.06, 0.48))
x, y = unzip(c_gio_poly)
draw(ax, x, y, "Giotto", True, (0.04, 0.49))
x, y = unzip(c_ins)
draw(ax, x, y, "Inspiration", False, (0.04, 0.48))
ax.set_ylabel("fixed pattern NPS [mm$^{-2}$]", fontsize=10.5)
ax.yaxis.set_label_coords(-0.092, 0.506)
ax.xaxis.set_label_coords(0.505, -0.106)
fig.text(*px(28, 898), "(c)", ha="center", va="center", fontsize=14)
add_title("Fixed pattern NPS", 617, 928, 524, 710, 943.5)
add_legend((263, 901, 499, 1024), 0.544, 0.835, "Poynomial", none_poly=("Inspiration",))

fig.savefig("out.png", dpi=100)
